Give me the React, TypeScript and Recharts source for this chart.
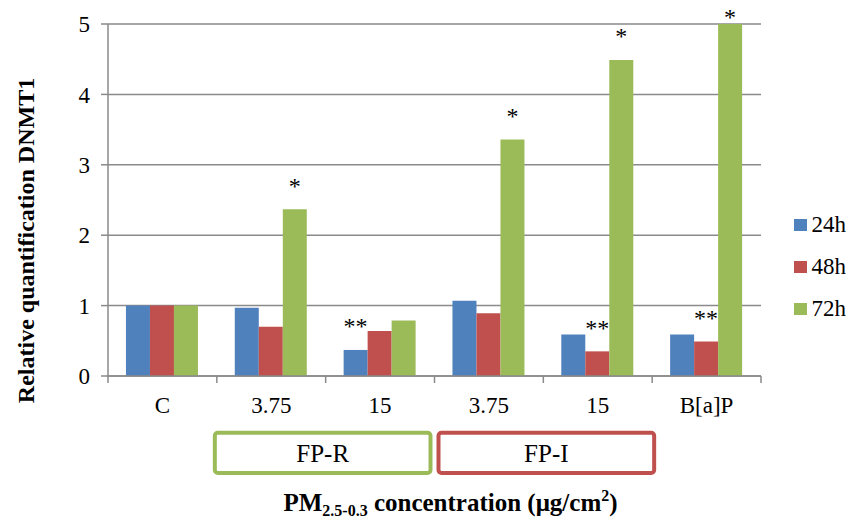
import React from "react";
import {
  Bar,
  BarChart,
  CartesianGrid,
  LabelList,
  Legend,
  ReferenceArea,
  Rectangle,
  XAxis,
  YAxis,
} from "recharts";

const categories = ["C", "3.75", "15", "3.75", "15", "B[a]P"];
const seriesNames = ["24h", "48h", "72h"];
const values24h = [1.0, 0.97, 0.37, 1.07, 0.59, 0.59];
const values48h = [1.0, 0.7, 0.64, 0.89, 0.35, 0.49];
const values72h = [1.0, 2.37, 0.79, 3.36, 4.49, 5.0];
// significance marks drawn above the bars
const marks24h = ["", "", "**", "", "", ""];
const marks48h = ["", "", "", "", "**", "**"];
const marks72h = ["", "*", "", "*", "*", "*"];
const yTicks = [0, 1, 2, 3, 4, 5];
const groupNames = ["FP-R", "FP-I"];
const groupFrom = [1, 3];
const groupTo = [2, 4];

const colors = ["#4F81BD", "#C0504D", "#9BBB59"];
const groupColors = ["#9BBB59", "#C0504D"];
// small horizontal nudges so the two boxes do not touch
const groupNudge = [
  [-2, -4],
  [4, 2],
];
const FONT = "Liberation Serif";
const GRID = "#8a8a8a";

const W = 850;
const H = 518;
const MARGIN = { top: 24, right: 89, left: 0, bottom: 0 };
const Y_AXIS_W = 108;
const X_AXIS_H = 142;
const BAND = (W - MARGIN.right - MARGIN.left - Y_AXIS_W) / categories.length;

const data = categories.map((c, i) => ({
  key: String(i),
  label: c,
  h24: values24h[i],
  h48: values48h[i],
  h72: values72h[i],
  m24: marks24h[i],
  m48: marks48h[i],
  m72: marks72h[i],
}));

function CategoryTick(props: any) {
  const { x, y, index } = props;
  const left = x - BAND / 2;
  const right = x + BAND / 2;
  return (
    <g>
      <line x1={left} x2={left} y1={y} y2={y + 7} stroke={GRID} strokeWidth={1.5} />
      {index === categories.length - 1 && (
        <line x1={right} x2={right} y1={y} y2={y + 7} stroke={GRID} strokeWidth={1.5} />
      )}
      <text x={x} y={y + 36.5} textAnchor="middle" fontSize={23} fontFamily={FONT} fill="#000">
        {categories[index]}
      </text>
    </g>
  );
}

function StarLabel(props: any) {
  const { x, y, width, value } = props;
  if (!value) return null;
  // keep the mark inside the picture when the bar reaches the top
  const base = Math.max(y - 15.5, MARGIN.top + 1);
  return (
    <text x={x + width / 2} y={base} textAnchor="middle" fontSize={24} fontFamily={FONT} fill="#000">
      {value}
    </text>
  );
}

function GroupBox(i: number) {
  return (props: any) => {
    const { x, y, width, height } = props;
    const [dl, dr] = groupNudge[i];
    const x0 = x + dl;
    const w = width - dl + dr;
    return (
      <g>
        <Rectangle
          x={x0}
          y={y}
          width={w}
          height={height}
          radius={3}
          fill="#fff"
          stroke={groupColors[i]}
          strokeWidth={4}
        />
        <text
          x={x0 + w / 2}
          y={y + height / 2 + 9}
          textAnchor="middle"
          fontSize={25}
          fontFamily={FONT}
          fill="#000"
        >
          {groupNames[i]}
        </text>
      </g>
    );
  };
}

function XTitle(props: any) {
  const { viewBox } = props;
  const cx = viewBox.x + viewBox.width / 2 + 16;
  return (
    <text x={cx} y={viewBox.y + 135} textAnchor="middle" fontSize={25} fontWeight="bold" fontFamily={FONT} fill="#000">
      PM
      <tspan fontSize={16} dy={5}>2.5-0.3</tspan>
      <tspan dy={-5}> concentration (μg/cm</tspan>
      <tspan fontSize={16} dy={-10}>2</tspan>
      <tspan dy={10}>)</tspan>
    </text>
  );
}

function YTitle(props: any) {
  const { viewBox } = props;
  const cx = 33.5;
  const cy = viewBox.y + viewBox.height / 2 + 40.5;
  return (
    <text
      x={cx}
      y={cy}
      transform={`rotate(-90, ${cx}, ${cy})`}
      textAnchor="middle"
      fontSize={24}
      fontWeight="bold"
      fontFamily={FONT}
      fill="#000"
    >
      Relative quantification  DNMT1
    </text>
  );
}

function LegendBox() {
  return (
    <div style={{ fontFamily: FONT, fontSize: 23, color: "#000" }}>
      {seriesNames.map((s, i) => (
        <div key={s} style={{ height: 42, display: "flex", alignItems: "center" }}>
          <span style={{ width: 12.5, height: 12.5, background: colors[i], marginRight: 5, display: "inline-block" }} />
          <span>{s}</span>
        </div>
      ))}
    </div>
  );
}

export default function App() {
  return (
    <div style={{ position: "absolute", left: 0, top: 0, width: W, height: H, background: "#fff", fontFamily: FONT }}>
      <BarChart
        width={W}
        height={H}
        data={data}
        margin={MARGIN}
        barCategoryGap="16.5%"
        barGap={0}
      >
        <CartesianGrid vertical={false} stroke={GRID} strokeWidth={1.5} />
        <XAxis
          dataKey="key"
          interval={0}
          height={X_AXIS_H}
          tickSize={0}
          tickMargin={0}
          tickLine={false}
          axisLine={{ stroke: GRID, strokeWidth: 1.5 }}
          tick={<CategoryTick />}
          label={{ content: <XTitle /> }}
        />
        <YAxis
          width={Y_AXIS_W}
          domain={[0, 5]}
          ticks={yTicks}
          interval={0}
          tickSize={7}
          tickMargin={11}
          axisLine={{ stroke: GRID, strokeWidth: 1.5 }}
          tickLine={{ stroke: GRID, strokeWidth: 1.5 }}
          tick={{ fontSize: 23, fontFamily: FONT, fill: "#000" }}
          label={{ content: <YTitle /> }}
        />
        <Legend
          layout="horizontal"
          verticalAlign="middle"
          align="center"
          content={<LegendBox />}
          wrapperStyle={{ left: 794, top: 204, width: 60, height: 126 }}
        />
        {groupNames.map((g, i) => (
          <ReferenceArea
            key={g}
            x1={String(groupFrom[i])}
            x2={String(groupTo[i])}
            y1={-0.805}
            y2={-1.378}
            ifOverflow="visible"
            shape={GroupBox(i)}
          />
        ))}
        <Bar dataKey="h24" name={seriesNames[0]} fill={colors[0]} isAnimationActive={false}>
          <LabelList dataKey="m24" content={<StarLabel />} />
        </Bar>
        <Bar dataKey="h48" name={seriesNames[1]} fill={colors[1]} isAnimationActive={false}>
          <LabelList dataKey="m48" content={<StarLabel />} />
        </Bar>
        <Bar dataKey="h72" name={seriesNames[2]} fill={colors[2]} isAnimationActive={false}>
          <LabelList dataKey="m72" content={<StarLabel />} />
        </Bar>
      </BarChart>
    </div>
  );
}
